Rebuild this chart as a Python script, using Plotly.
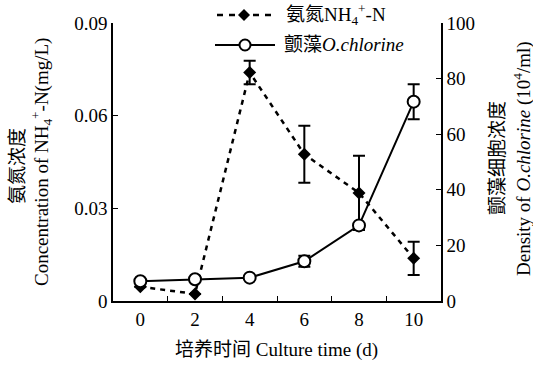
import plotly.graph_objects as go

# Culture time (days)
days = [0, 2, 4, 6, 8, 10]

# Ammonium nitrogen concentration (mg/L) with error
nh4 = [0.0046, 0.0023, 0.074, 0.0475, 0.035, 0.0138]
nh4_err = [0, 0, 0.0038, 0.0092, 0.012, 0.0054]

# Oscillatoria chlorine cell density (10^4 / ml) with error
algae = [7.1, 7.8, 8.4, 14.3, 27.2, 71.7]
algae_err = [0, 0, 0, 2.0, 0, 6.3]

x_labels = [0, 2, 4, 6, 8, 10]
left_ticks = [0, 0.03, 0.06, 0.09]
left_text = ["0", "0.03", "0.06", "0.09"]
right_ticks = [0, 20, 40, 60, 80, 100]

FONT = "Liberation Serif, Times New Roman, Noto Sans CJK SC, serif"
FS = 19

fig = go.Figure()

fig.add_trace(go.Scatter(
    x=days, y=nh4, yaxis="y", mode="lines+markers", name="NH4",
    line=dict(color="black", width=2.5, dash="5px,5px"),
    marker=dict(symbol="diamond", size=10, color="black"),
    error_y=dict(type="data", array=nh4_err, color="black", thickness=2, width=6),
    showlegend=False,
))

fig.add_trace(go.Scatter(
    x=days, y=algae, yaxis="y2", mode="lines+markers", name="algae",
    line=dict(color="black", width=2),
    marker=dict(symbol="circle", size=12, color="white", line=dict(color="black", width=2)),
    error_y=dict(type="data", array=algae_err, color="black", thickness=2, width=6),
    showlegend=False,
))

L, R, T, B = 113, 92, 23, 64
W, H = 533, 365
pw, ph = W - L - R, H - T - B


def px(xp):
    return (xp - L) / pw


def py(yp):
    return (H - B - yp) / ph


fig.update_layout(
    width=W, height=H,
    margin=dict(l=L, r=R, t=T, b=B, pad=0),
    paper_bgcolor="white", plot_bgcolor="white",
    font=dict(family=FONT, size=FS, color="black"),
    xaxis=dict(
        range=[-1, 11], tickvals=x_labels, ticktext=[str(v) for v in x_labels],
        ticks="", showline=True, linecolor="black", linewidth=1.5,
        showgrid=False, zeroline=False, mirror=False,
        minor=dict(tickvals=[1, 3, 5, 7, 9], ticks="inside", ticklen=5,
                   tickwidth=1.2, tickcolor="black", showgrid=False),
        tickfont=dict(size=FS),
    ),
    yaxis=dict(
        range=[0, 0.09], tickvals=left_ticks, ticktext=left_text,
        ticks="inside", ticklen=5, tickwidth=1.2, tickcolor="black",
        showline=True, linecolor="black", linewidth=1.5,
        showgrid=False, zeroline=False, tickfont=dict(size=FS),
    ),
    yaxis2=dict(
        range=[0, 100], tickvals=right_ticks, overlaying="y", side="right",
        ticks="inside", ticklen=5, tickwidth=1.2, tickcolor="black",
        showline=True, linecolor="black", linewidth=1.5,
        showgrid=False, zeroline=False, tickfont=dict(size=FS),
    ),
)


def label(text, xp, yp, angle=0, xanchor="center"):
    fig.add_annotation(text=text, x=px(xp), y=py(yp), xref="paper", yref="paper",
                       xanchor=xanchor, yanchor="middle", textangle=angle,
                       showarrow=False, font=dict(size=FS, color="black"))


# Axis titles
label("氨氮浓度", 17, 166, -90)
label("Concentration of NH<sub>4</sub><sup>+</sup>-N(mg/L)", 41, 162, -90)
label("颤藻细胞浓度", 497, 158, -90)
label("Density of <i>O.chlorine</i> (10<sup>4</sup>/ml)", 522, 159, -90)
label("培养时间 Culture time (d)", 276, 350)

# Legend
ly1, ly2 = 15, 45
fig.add_shape(type="line", xref="paper", yref="paper", x0=px(217), x1=px(272),
              y0=py(ly1), y1=py(ly1), line=dict(color="black", width=2.5, dash="6px,6px"))
fig.add_shape(type="path", xref="paper", yref="paper", xsizemode="pixel", ysizemode="pixel",
              xanchor=px(244), yanchor=py(ly1),
              path="M -6 0 L 0 6 L 6 0 L 0 -6 Z", fillcolor="black", line=dict(width=0))
fig.add_shape(type="line", xref="paper", yref="paper", x0=px(215), x1=px(275),
              y0=py(ly2), y1=py(ly2), line=dict(color="black", width=2))
fig.add_shape(type="circle", xref="paper", yref="paper", xsizemode="pixel", ysizemode="pixel",
              xanchor=px(245), yanchor=py(ly2), x0=-5.5, x1=5.5, y0=-5.5, y1=5.5,
              fillcolor="white", line=dict(color="black", width=2))
label("氨氮NH<sub>4</sub><sup>+</sup>-N", 284, ly1, xanchor="left")
label("颤藻<i>O.chlorine</i>", 282, ly2, xanchor="left")

fig.write_html("out.html")
